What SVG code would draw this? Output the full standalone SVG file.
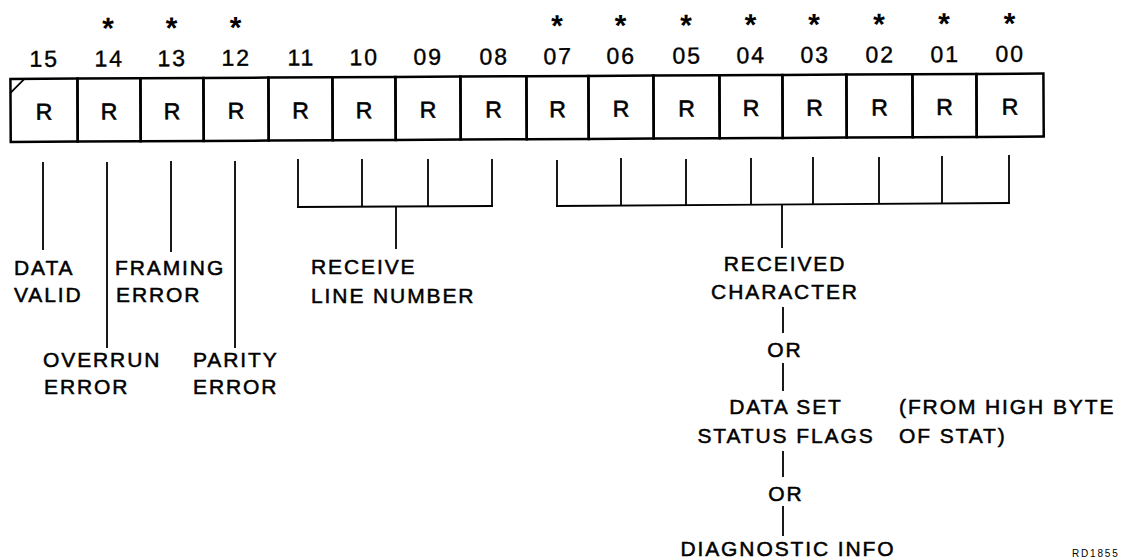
<svg xmlns="http://www.w3.org/2000/svg" width="1122" height="560" viewBox="0 0 1122 560">
<style>
text{font-family:"Liberation Sans",Arial,sans-serif;fill:#000;}
.num{font-size:23px;letter-spacing:2px;text-anchor:middle;stroke:#000;stroke-width:0.4px;}
.ast{font-size:30px;font-weight:bold;text-anchor:middle;}
.r{font-size:23px;text-anchor:middle;stroke:#000;stroke-width:0.6px;}
.lbl{font-size:21px;letter-spacing:1.9px;stroke:#000;stroke-width:0.5px;}
.mid{text-anchor:middle;}
.tag{font-size:10px;letter-spacing:1.8px;}
.cell{fill:none;stroke:#000;stroke-width:2.5px;}
.conn line{stroke:#000;stroke-width:1.8px;}
</style>
<rect width="1122" height="560" fill="#fff"/>
<g id="register" transform="rotate(-0.3)">
  <g id="asterisks">
    <text class="ast" x="108" y="39">*</text>
    <text class="ast" x="171.5" y="39">*</text>
    <text class="ast" x="235.5" y="39">*</text>
    <text class="ast" x="557" y="39">*</text>
    <text class="ast" x="620.5" y="39">*</text>
    <text class="ast" x="686" y="39">*</text>
    <text class="ast" x="750.5" y="39">*</text>
    <text class="ast" x="814" y="39">*</text>
    <text class="ast" x="879" y="39">*</text>
    <text class="ast" x="944" y="39">*</text>
    <text class="ast" x="1009.5" y="39">*</text>
  </g>
  <g id="bitnumbers">
    <text class="num" x="44" y="67">15</text>
    <text class="num" x="109" y="67">14</text>
    <text class="num" x="172" y="67">13</text>
    <text class="num" x="236" y="67">12</text>
    <text class="num" x="301" y="67">11</text>
    <text class="num" x="364" y="67">10</text>
    <text class="num" x="428" y="67">09</text>
    <text class="num" x="494" y="67">08</text>
    <text class="num" x="558" y="67">07</text>
    <text class="num" x="621" y="67">06</text>
    <text class="num" x="687" y="67">05</text>
    <text class="num" x="751" y="67">04</text>
    <text class="num" x="815" y="67">03</text>
    <text class="num" x="880" y="67">02</text>
    <text class="num" x="945" y="67">01</text>
    <text class="num" x="1010" y="67">00</text>
  </g>
  <g id="bit15"><rect class="cell" x="10" y="79" width="67" height="63"/><line x1="10" y1="93" x2="24" y2="79" stroke="#000" stroke-width="1.8"/><text class="r" x="43.5" y="120">R</text></g>
  <g id="bit14"><rect class="cell" x="77" y="79" width="63" height="63"/><text class="r" x="108.5" y="120">R</text></g>
  <g id="bit13"><rect class="cell" x="140" y="79" width="63" height="63"/><text class="r" x="171.5" y="120">R</text></g>
  <g id="bit12"><rect class="cell" x="203" y="79" width="65" height="63"/><text class="r" x="235.5" y="120">R</text></g>
  <g id="bit11"><rect class="cell" x="268" y="79" width="64" height="63"/><text class="r" x="300" y="120">R</text></g>
  <g id="bit10"><rect class="cell" x="332" y="79" width="63" height="63"/><text class="r" x="363.5" y="120">R</text></g>
  <g id="bit09"><rect class="cell" x="395" y="79" width="65" height="63"/><text class="r" x="427.5" y="120">R</text></g>
  <g id="bit08"><rect class="cell" x="460" y="79" width="66" height="63"/><text class="r" x="493" y="120">R</text></g>
  <g id="bit07"><rect class="cell" x="526" y="79" width="62" height="63"/><text class="r" x="557" y="120">R</text></g>
  <g id="bit06"><rect class="cell" x="588" y="79" width="65" height="63"/><text class="r" x="620.5" y="120">R</text></g>
  <g id="bit05"><rect class="cell" x="653" y="79" width="66" height="63"/><text class="r" x="686" y="120">R</text></g>
  <g id="bit04"><rect class="cell" x="719" y="79" width="63" height="63"/><text class="r" x="750.5" y="120">R</text></g>
  <g id="bit03"><rect class="cell" x="782" y="79" width="64" height="63"/><text class="r" x="814" y="120">R</text></g>
  <g id="bit02"><rect class="cell" x="846" y="79" width="66" height="63"/><text class="r" x="879" y="120">R</text></g>
  <g id="bit01"><rect class="cell" x="912" y="79" width="64" height="63"/><text class="r" x="944" y="120">R</text></g>
  <g id="bit00"><rect class="cell" x="976" y="79" width="67" height="63"/><text class="r" x="1009.5" y="120">R</text></g>
</g>
<g id="connectors" class="conn">
  <line x1="43" y1="162" x2="43" y2="250"/>
  <line x1="107" y1="162" x2="107" y2="348"/>
  <line x1="171" y1="161" x2="171" y2="252"/>
  <line x1="235" y1="161" x2="235" y2="348"/>
  <line x1="298" y1="159" x2="298" y2="207.5"/>
  <line x1="362" y1="159" x2="362" y2="207"/>
  <line x1="428" y1="159" x2="428" y2="207"/>
  <line x1="492" y1="159" x2="492" y2="206.5"/>
  <line x1="297" y1="207" x2="493" y2="206"/>
  <line x1="396" y1="207" x2="396" y2="249"/>
  <line x1="557" y1="160" x2="557" y2="206.5"/>
  <line x1="621" y1="158" x2="621" y2="206"/>
  <line x1="686" y1="159" x2="686" y2="205.5"/>
  <line x1="751" y1="158" x2="751" y2="205"/>
  <line x1="813" y1="157" x2="813" y2="204.5"/>
  <line x1="879" y1="157" x2="879" y2="204"/>
  <line x1="942" y1="156" x2="942" y2="203.5"/>
  <line x1="1009" y1="155" x2="1009" y2="203"/>
  <line x1="556" y1="206" x2="1010" y2="203"/>
  <line x1="782" y1="204.5" x2="782" y2="248"/>
  <line x1="783" y1="307" x2="783" y2="333"/>
  <line x1="783" y1="363" x2="783" y2="391"/>
  <line x1="783" y1="451" x2="783" y2="477"/>
  <line x1="783" y1="506" x2="783" y2="536"/>
</g>
<g id="labels">
  <g id="data-valid"><text class="lbl" x="14" y="275">DATA</text><text class="lbl" x="14" y="302">VALID</text></g>
  <g id="framing-error"><text class="lbl" x="115" y="275">FRAMING</text><text class="lbl" x="116" y="302">ERROR</text></g>
  <g id="overrun-error"><text class="lbl" x="43" y="367">OVERRUN</text><text class="lbl" x="44" y="394">ERROR</text></g>
  <g id="parity-error"><text class="lbl" x="193" y="367">PARITY</text><text class="lbl" x="193" y="394">ERROR</text></g>
  <g id="receive-line"><text class="lbl" x="311" y="274">RECEIVE</text><text class="lbl" x="311" y="303">LINE NUMBER</text></g>
  <g id="received-char"><text class="lbl mid" x="785" y="271">RECEIVED</text><text class="lbl mid" x="785" y="299">CHARACTER</text></g>
  <g id="or1"><text class="lbl mid" x="785" y="357">OR</text></g>
  <g id="data-set"><text class="lbl mid" x="786" y="414">DATA SET</text><text class="lbl mid" x="786" y="443">STATUS FLAGS</text></g>
  <g id="from-high"><text class="lbl" x="899" y="414">(FROM HIGH BYTE</text><text class="lbl" x="899" y="443">OF STAT)</text></g>
  <g id="or2"><text class="lbl mid" x="786" y="501">OR</text></g>
  <g id="diagnostic"><text class="lbl mid" x="788" y="556">DIAGNOSTIC INFO</text></g>
  <text class="tag" x="1072" y="557">RD1855</text>
</g>
</svg>
